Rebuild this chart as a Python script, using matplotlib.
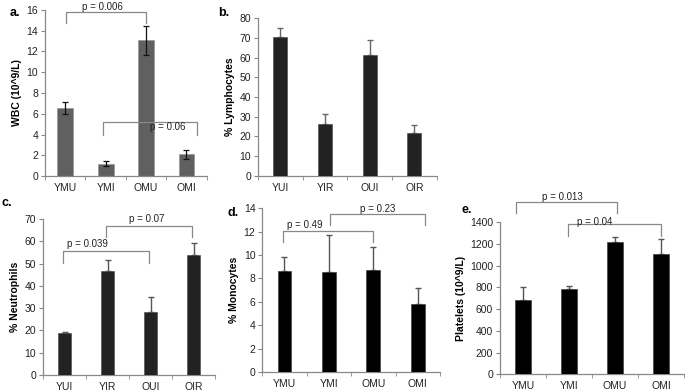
import numpy as np
import matplotlib.pyplot as plt

plt.rcParams['font.family'] = ['Liberation Sans', 'DejaVu Sans']
plt.rcParams['font.size'] = 7.5

# data
grp_m = ['YMU', 'YMI', 'OMU', 'OMI']
grp_i = ['YUI', 'YIR', 'OUI', 'OIR']

wbc = [6.55, 1.2, 13.1, 2.1]
wbc_err = [0.6, 0.2, 1.4, 0.45]

lymph = [70.5, 26.5, 61.5, 21.5]
lymph_err = [4.5, 5.0, 7.5, 4.5]

neut = [18.8, 46.8, 28.2, 54.0]
neut_err = [0.5, 5.0, 7.0, 5.3]

mono = [8.6, 8.55, 8.7, 5.8]
mono_err = [1.2, 3.2, 2.0, 1.4]

plt_cnt = [680, 785, 1215, 1105]
plt_err = [120, 32, 45, 140]

fig = plt.figure(figsize=(6.85, 3.92), dpi=100)


def setup(ax, labels, ylim, step, ylabel):
    x = np.arange(len(labels))
    ax.set_xlim(-0.5, 3.5)
    ax.set_ylim(*ylim)
    ax.set_yticks(np.arange(ylim[0], ylim[1] + step / 2, step))
    ax.set_xticks(x)
    ax.set_xticklabels(labels)
    ax.set_xticks(np.arange(-0.5, 4, 1), minor=True)
    for s in ['top', 'right']:
        ax.spines[s].set_visible(False)
    for s in ['left', 'bottom']:
        ax.spines[s].set_color('#888888')
        ax.spines[s].set_linewidth(0.9)
    ax.tick_params(axis='x', which='major', length=0, pad=5, colors='#222222')
    ax.tick_params(axis='x', which='minor', length=3, color='#888888', direction='out')
    ax.tick_params(axis='y', length=3, color='#888888', colors='#222222', pad=2)
    ax.set_ylabel(ylabel, fontweight='bold', fontsize=7.5, labelpad=3)
    return x


def bracket(ax, x1, x2, ytop, yleg, text, tx, ty, ha='center'):
    ax.plot([x1, x1, x2, x2], [yleg, ytop, ytop, yleg], color='#888888',
            lw=0.9, clip_on=False)
    ax.text(tx, ty, text, ha=ha, va='center', fontsize=7, color='#222222',
            clip_on=False)


# a. WBC
ax = fig.add_axes([0.0657, 0.551, 0.236, 0.4235])
x = setup(ax, grp_m, (0, 16), 2, 'WBC (10^9/L)')
ax.bar(x, wbc, width=0.39, color='#606060', edgecolor='#9a9a9a', lw=0.6)
ax.errorbar(x, wbc, yerr=wbc_err, fmt='none', ecolor='#111111', elinewidth=0.9,
            capsize=2, capthick=0.9)
bracket(ax, 0.01, 2.0, 15.85, 14.7, 'p = 0.006', 0.92, 16.3)
bracket(ax, 0.94, 3.25, 5.2, 3.95, 'p = 0.06', 2.54, 4.75)

# b. lymphocytes
ax = fig.add_axes([0.3766, 0.5518, 0.2609, 0.4015])
x = setup(ax, grp_i, (0, 80), 10, '% Lymphocytes')
ax.bar(x, lymph, width=0.31, color='#222222', edgecolor='#555555', lw=0.5, zorder=3)
ax.errorbar(x, lymph, yerr=[np.zeros(4), lymph_err], fmt='none', ecolor='#666666',
            elinewidth=1.0, capsize=2, capthick=1.0, zorder=2)

# c. neutrophils
ax = fig.add_axes([0.0628, 0.0434, 0.2511, 0.398])
x = setup(ax, grp_i, (0, 70), 10, '% Neutrophils')
ax.bar(x, neut, width=0.31, color='#222222', edgecolor='#555555', lw=0.5, zorder=3)
ax.errorbar(x, neut, yerr=[np.zeros(4), neut_err], fmt='none', ecolor='#555555',
            elinewidth=1.0, capsize=2, capthick=1.0, zorder=2)
bracket(ax, -0.03, 1.97, 55.6, 50.4, 'p = 0.039', 0.05, 58.8, ha='left')
bracket(ax, 0.96, 2.96, 67.0, 62.0, 'p = 0.07', 1.91, 70.0)

# d. monocytes
ax = fig.add_axes([0.3829, 0.051, 0.2594, 0.4176])
x = setup(ax, grp_m, (0, 14), 2, '% Monocytes')
ax.bar(x, mono, width=0.31, color='#000000', edgecolor='#444444', lw=0.5, zorder=3)
ax.errorbar(x, mono, yerr=[np.zeros(4), mono_err], fmt='none', ecolor='#555555',
            elinewidth=1.0, capsize=2, capthick=1.0, zorder=2)
bracket(ax, -0.03, 2.0, 12.08, 11.1, 'p = 0.49', 0.05, 12.6, ha='left')
bracket(ax, 1.02, 3.16, 13.5, 12.6, 'p = 0.23', 2.1, 13.9)

# e. platelets
ax = fig.add_axes([0.73, 0.0454, 0.2686, 0.3875])
x = setup(ax, grp_m, (0, 1400), 200, 'Platelets (10^9/L)')
ax.bar(x, plt_cnt, width=0.33, color='#000000', edgecolor='#444444', lw=0.5, zorder=3)
ax.errorbar(x, plt_cnt, yerr=[np.zeros(4), plt_err], fmt='none', ecolor='#555555',
            elinewidth=1.0, capsize=2, capthick=1.0, zorder=2)
bracket(ax, -0.15, 2.04, 1585, 1483, 'p = 0.013', 0.85, 1637)
bracket(ax, 0.97, 3.0, 1382, 1270, 'p = 0.04', 1.55, 1406)

# panel letters
for lab, px, py in [('a.', 10, 13), ('b.', 218, 13), ('c.', 2, 203),
                    ('d.', 227, 213), ('e.', 461, 210)]:
    fig.text(px / 685, 1 - py / 392, lab, fontweight='bold', fontsize=9,
             ha='left', va='center')

fig.savefig('out.png', dpi=100)
